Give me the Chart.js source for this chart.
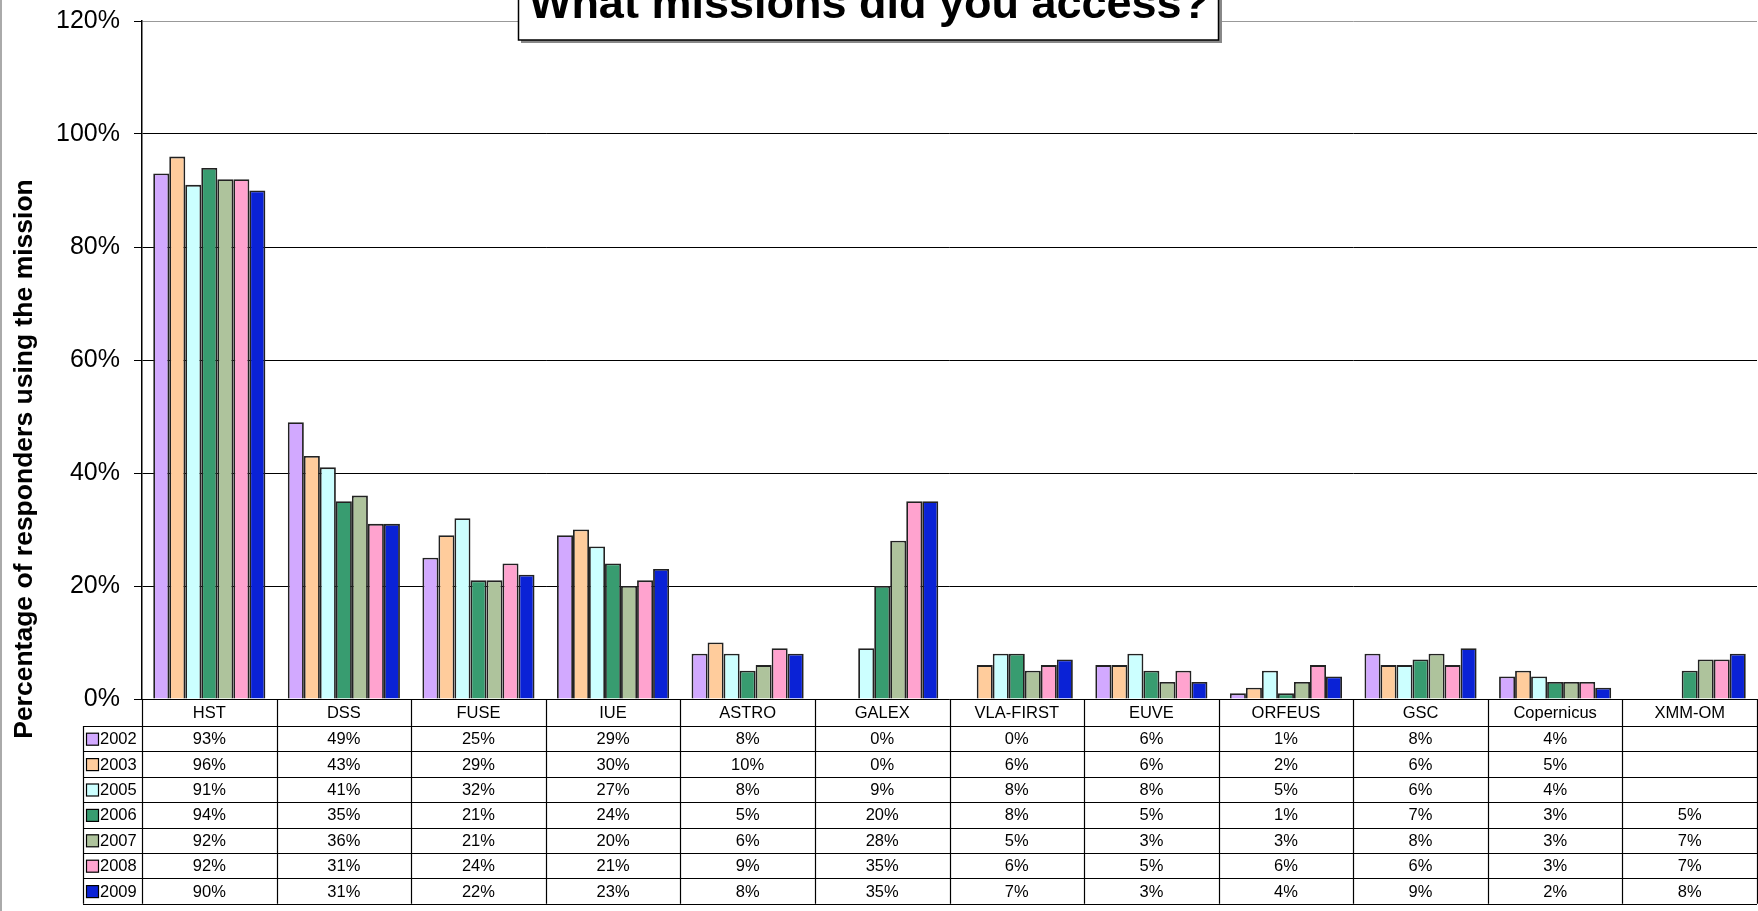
<!DOCTYPE html>
<html lang="en">
  <head>
    <meta charset="UTF-8" />
    <title>What missions did you access?</title>
    <script src="https://cdn.jsdelivr.net/npm/chart.js"></script>
    <style>
      body { margin: 0; background: #fff; }
      #wrap { width: 1758px; height: 911px; }
    </style>
  </head>

  <body>
    <div id="wrap"><canvas id="missionChart" width="1758" height="911"></canvas></div>

    <script>
      const missions = ["HST", "DSS", "FUSE", "IUE", "ASTRO", "GALEX", "VLA-FIRST", "EUVE", "ORFEUS", "GSC", "Copernicus", "XMM-OM"];
      const years = ["2002", "2003", "2005", "2006", "2007", "2008", "2009"];

      const y2002 = [93, 49, 25, 29, 8, 0, 0, 6, 1, 8, 4, null];
      const y2003 = [96, 43, 29, 30, 10, 0, 6, 6, 2, 6, 5, null];
      const y2005 = [91, 41, 32, 27, 8, 9, 8, 8, 5, 6, 4, null];
      const y2006 = [94, 35, 21, 24, 5, 20, 8, 5, 1, 7, 3, 5];
      const y2007 = [92, 36, 21, 20, 6, 28, 5, 3, 3, 8, 3, 7];
      const y2008 = [92, 31, 24, 21, 9, 35, 6, 5, 6, 6, 3, 7];
      const y2009 = [90, 31, 22, 23, 8, 35, 7, 3, 4, 9, 2, 8];

      const yTicks = [0, 20, 40, 60, 80, 100, 120];

      const seriesValues = [y2002, y2003, y2005, y2006, y2007, y2008, y2009];
      const colors = ["#D2A9FF", "#FFCC9C", "#CCFFFF", "#389C70", "#AEC39C", "#FFA3CF", "#0A22D6"];

      const FONT = "'Liberation Sans', Arial, sans-serif";

      // table under the plot, lined up with the x scale
      const dataTable = {
        id: "dataTable",
        beforeDraw(chart) {
          const c = chart.ctx;
          c.save();
          c.fillStyle = "#fff";
          c.fillRect(0, 0, chart.width, chart.height);
          c.restore();
        },
        afterDraw(chart) {
          const c = chart.ctx;
          const x = chart.scales.x;
          const area = chart.chartArea;
          const catW = (area.right - area.left) / missions.length;
          const headTop = area.bottom;
          const headBot = 726;
          const rowH = 25.4;
          const legLeft = 83;

          c.save();
          c.strokeStyle = "#000";
          c.lineWidth = 1.2;
          c.fillStyle = "#000";
          c.textBaseline = "middle";

          // header row
          c.font = "16.5px " + FONT;
          c.textAlign = "center";
          missions.forEach((m, i) => {
            c.fillText(m, x.getPixelForValue(i), (headTop + headBot) / 2 + 1);
          });
          for (let i = 0; i <= missions.length; i++) {
            const xx = Math.round(area.left + i * catW) + 0.5;
            c.beginPath();
            c.moveTo(xx, headTop);
            c.lineTo(xx, headBot + rowH * years.length);
            c.stroke();
          }

          // rows
          for (let r = 0; r <= years.length; r++) {
            const yy = Math.round(headBot + r * rowH) + 0.5;
            c.beginPath();
            c.moveTo(legLeft, yy);
            c.lineTo(area.right, yy);
            c.stroke();
          }
          c.beginPath();
          c.moveTo(legLeft + 0.5, headBot);
          c.lineTo(legLeft + 0.5, headBot + rowH * years.length);
          c.stroke();

          years.forEach((yr, r) => {
            const cy = headBot + r * rowH + rowH / 2 + 1;
            c.fillStyle = colors[r];
            c.fillRect(86, cy - 6.5, 12, 12);
            c.strokeRect(86.5, cy - 6.5, 12, 12);
            c.fillStyle = "#000";
            c.textAlign = "left";
            c.fillText(yr, 100, cy);
            c.textAlign = "center";
            seriesValues[r].forEach((v, i) => {
              if (v === null) return;
              c.fillText(v + "%", x.getPixelForValue(i), cy);
            });
          });

          // y axis title
          c.save();
          c.translate(25, 459);
          c.rotate(-Math.PI / 2);
          c.font = "bold 26.5px " + FONT;
          c.textAlign = "center";
          c.fillText("Percentage of responders using the mission", 0, 0);
          c.restore();

          // title box
          c.fillStyle = "#888";
          c.fillRect(521, -5, 701, 48);
          c.fillStyle = "#fff";
          c.fillRect(518, -5, 701, 45);
          c.lineWidth = 1.5;
          c.strokeRect(518.5, -5, 700, 45);
          c.fillStyle = "#000";
          c.font = "bold 45px " + FONT;
          c.textAlign = "center";
          c.textBaseline = "alphabetic";
          c.fillText("What missions did you access?", 869, 18);

          // frame edge on the left
          c.fillStyle = "#aaa";
          c.fillRect(0, 0, 2, chart.height);
          c.restore();
        },
      };

      new Chart(document.getElementById("missionChart"), {
        type: "bar",
        data: {
          labels: missions,
          datasets: years.map((yr, i) => ({
            label: yr,
            data: seriesValues[i],
            backgroundColor: colors[i],
            borderColor: "#222",
            borderWidth: 1.8,
            borderSkipped: "bottom",
            categoryPercentage: 0.833,
            barPercentage: 1.0,
          })),
        },
        options: {
          responsive: false,
          animation: false,
          layout: { padding: { top: 21, bottom: 212, left: 0, right: 1 } },
          plugins: {
            legend: { display: false },
            title: { display: false },
            tooltip: { enabled: false },
          },
          scales: {
            x: { display: false },
            y: {
              min: 0,
              max: 120,
              afterFit(scale) {
                scale.width = 142;
                scale.paddingTop = 0;
                scale.paddingBottom = 0;
              },
              afterBuildTicks(scale) {
                scale.ticks = yTicks.map((v) => ({ value: v }));
              },
              ticks: {
                callback: (v) => v + "%",
                color: "#000",
                padding: 14,
                font: { family: FONT, size: 25 },
              },
              grid: {
                color: (ctx) => (ctx.tick && ctx.tick.value === 120 ? "#999" : "#000"),
                tickColor: "#000",
                tickLength: 8,
                lineWidth: 1,
              },
              border: { color: "#000", width: 1.5 },
            },
          },
        },
        plugins: [dataTable],
      });
    </script>
  </body>
</html>
